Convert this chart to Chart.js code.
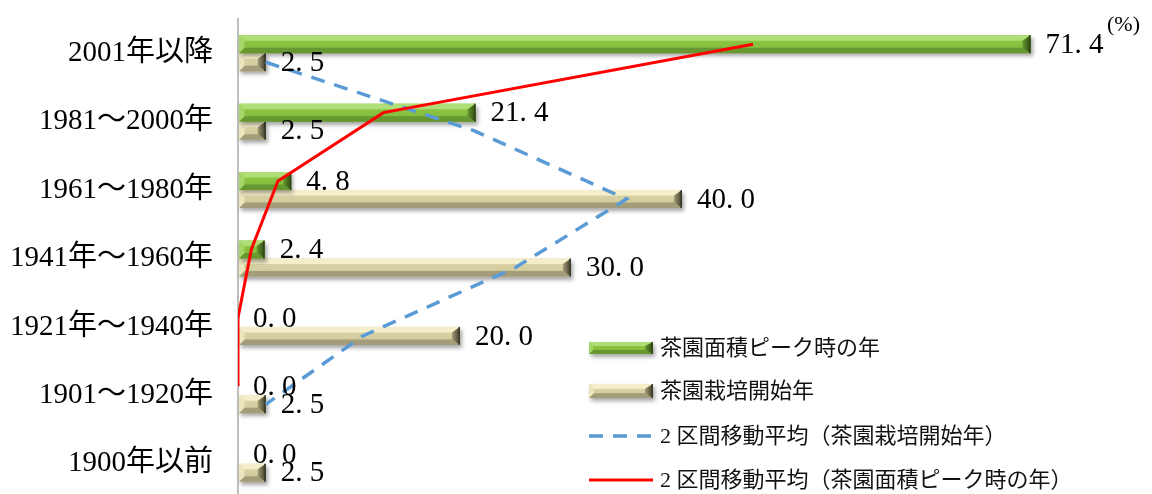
<!DOCTYPE html>
<html>
<head>
<meta charset="utf-8">
<script src="https://cdn.jsdelivr.net/npm/chart.js@4.4.0/dist/chart.umd.min.js"></script>
<style>
  html, body { margin: 0; padding: 0; background: #fff; overflow: hidden; }
  #wrap { width: 1152px; height: 500px; position: relative; }
</style>
</head>
<body>
<div id="wrap"><canvas id="chart"></canvas></div>
<script>
// categories, top to bottom
const categories = ["2001年以降", "1981～2000年", "1961～1980年", "1941年～1960年", "1921年～1940年", "1901～1920年", "1900年以前"];

// 茶園面積ピーク時の年 (%)
const peakYear = [71.4, 21.4, 4.8, 2.4, 0.0, 0.0, 0.0];
// 茶園栽培開始年 (%)
const startYear = [2.5, 2.5, 40.0, 30.0, 20.0, 2.5, 2.5];

// 2 区間移動平均 (no value for 1900年以前)
const maPeak = [46.4, 13.1, 3.6, 1.2, 0.0, 0.0];
const maStart = [2.5, 21.25, 35.0, 25.0, 11.25, 2.5];

const legendLabels = ["茶園面積ピーク時の年", "茶園栽培開始年", "2 区間移動平均（茶園栽培開始年）", "2 区間移動平均（茶園面積ピーク時の年）"];

const barThick = 18;
const barOffset = 0.1315; // half a bar, in category units

const greenBevel = { top: "#b0de76", mid: "#90ca44", low: "#80b83a", bottom: "#679731", left: "#a4d566", right: "#2f4a14" };
const tanBevel = { top: "#f4eecb", mid: "#ded8aa", low: "#ccc598", bottom: "#a29c78", left: "#ece5bd", right: "#3d3b29" };

function drawBevel(ctx, x0, y0, x1, y1, c) {
    const w = x1 - x0, h = y1 - y0;
    if (w < 1) return;
    const b = Math.min(5.5, h / 3, w / 2);
    const br = Math.min(8, w / 2);
    ctx.save();
    // shadow
    ctx.shadowColor = "rgba(0,0,0,0.35)";
    ctx.shadowBlur = 4;
    ctx.shadowOffsetX = 2;
    ctx.shadowOffsetY = 3;
    const g = ctx.createLinearGradient(0, y0, 0, y1);
    g.addColorStop(0, c.mid);
    g.addColorStop(1, c.low);
    ctx.fillStyle = g;
    ctx.fillRect(x0, y0, w, h);
    ctx.restore();

    const poly = (pts, col) => {
        ctx.beginPath();
        ctx.moveTo(pts[0][0], pts[0][1]);
        for (let i = 1; i < pts.length; i++) ctx.lineTo(pts[i][0], pts[i][1]);
        ctx.closePath();
        ctx.fillStyle = col;
        ctx.fill();
    };
    ctx.save();
    poly([[x0, y0], [x1, y0], [x1 - br, y0 + b], [x0 + b, y0 + b]], c.top);
    poly([[x0, y1], [x1, y1], [x1 - br, y1 - b], [x0 + b, y1 - b]], c.bottom);
    poly([[x0, y0], [x0 + b, y0 + b], [x0 + b, y1 - b], [x0, y1]], c.left);
    const rg = ctx.createLinearGradient(x1 - br, 0, x1, 0);
    rg.addColorStop(0, c.bottom);
    rg.addColorStop(1, c.right);
    poly([[x1, y0], [x1 - br, y0 + b], [x1 - br, y1 - b], [x1, y1]], rg);
    ctx.fillStyle = c.right;
    ctx.fillRect(x1 - 1.5, y0, 1.5, h);
    ctx.restore();
}

function drawMono(ctx, text, x, y, adv) {
    for (let i = 0; i < text.length; i++) {
        ctx.fillText(text[i], x + i * adv, y);
    }
}

const bevelPlugin = {
    id: "bevel",
    afterDatasetDraw(chart, args) {
        const meta = args.meta;
        if (meta.type !== "bar") return;
        const colors = meta.index === 2 ? greenBevel : tanBevel;
        const ctx = chart.ctx;
        meta.data.forEach(el => {
            const x0 = Math.min(el.base, el.x), x1 = Math.max(el.base, el.x);
            drawBevel(ctx, x0 + 1, el.y - el.height / 2, x1, el.y + el.height / 2, colors);
        });
    },
    afterDatasetsDraw(chart) {
        const ctx = chart.ctx;
        ctx.save();
        ctx.font = "29px 'Liberation Serif', serif";
        ctx.fillStyle = "#000";
        ctx.textBaseline = "middle";
        ctx.textAlign = "left";
        [2, 3].forEach(di => {
            const meta = chart.getDatasetMeta(di);
            const vals = chart.data.datasets[di].data;
            meta.data.forEach((el, i) => {
                drawMono(ctx, vals[i].toFixed(1), el.x + 15, el.y + 1, 14.5);
            });
        });
        ctx.restore();
    },
    afterDraw(chart) {
        const ctx = chart.ctx;
        ctx.save();
        ctx.fillStyle = "#000";
        ctx.textBaseline = "middle";
        ctx.font = "22px 'Liberation Serif', serif";
        ctx.fillText("(%)", 1107, 25);

        // legend
        const lx = 589, lw = 64, tx = 660;
        const ys = [348, 391, 436, 480];
        drawBevel(ctx, lx, ys[0] - 6, lx + lw, ys[0] + 6, greenBevel);
        drawBevel(ctx, lx, ys[1] - 7, lx + lw, ys[1] + 7, tanBevel);
        ctx.lineWidth = 3.5;
        ctx.strokeStyle = "#5b9bd5";
        ctx.setLineDash([14, 10]);
        ctx.beginPath(); ctx.moveTo(lx, ys[2]); ctx.lineTo(lx + lw, ys[2]); ctx.stroke();
        ctx.setLineDash([]);
        ctx.strokeStyle = "#ff0000";
        ctx.lineWidth = 3;
        ctx.beginPath(); ctx.moveTo(lx, ys[3]); ctx.lineTo(lx + lw, ys[3]); ctx.stroke();
        ctx.font = "22px 'Liberation Serif', 'Noto Sans CJK JP', sans-serif";
        ctx.fillStyle = "#111";
        legendLabels.forEach((t, i) => ctx.fillText(t, tx, ys[i] + 1));
        ctx.restore();
    }
};

new Chart(document.getElementById("chart"), {
    type: "bar",
    data: {
        labels: categories,
        datasets: [
            {
                type: "line",
                label: legendLabels[3],
                data: maPeak.map((v, i) => ({ x: v, y: i - barOffset })),
                yAxisID: "y2",
                indexAxis: "y",
                borderColor: "#ff0000",
                borderWidth: 3,
                pointRadius: 0,
                tension: 0,
                fill: false,
                order: 0
            },
            {
                type: "line",
                label: legendLabels[2],
                data: maStart.map((v, i) => ({ x: v, y: i + barOffset })),
                yAxisID: "y2",
                indexAxis: "y",
                borderColor: "#5b9bd5",
                borderWidth: 3.5,
                borderDash: [14, 10],
                pointRadius: 0,
                tension: 0,
                fill: false,
                order: 0
            },
            {
                label: legendLabels[0],
                data: peakYear,
                backgroundColor: "rgba(0,0,0,0)",
                barThickness: barThick,
                order: 1
            },
            {
                label: legendLabels[1],
                data: startYear,
                backgroundColor: "rgba(0,0,0,0)",
                barThickness: barThick,
                order: 1
            }
        ]
    },
    options: {
        indexAxis: "y",
        responsive: true,
        maintainAspectRatio: false,
        animation: false,
        layout: {
            padding: { top: 19, bottom: 2, right: 26, left: 0 }
        },
        plugins: {
            legend: { display: false },
            tooltip: { enabled: false }
        },
        scales: {
            x: {
                display: false,
                min: 0,
                max: 80
            },
            y: {
                type: "category",
                grid: { display: false, drawTicks: false },
                border: { display: true, color: "#bfbfbf", width: 2 },
                ticks: {
                    color: "#000",
                    padding: 25,
                    font: { family: "'Liberation Serif', 'Noto Sans CJK JP', serif", size: 29 }
                },
                afterFit(scale) {
                    scale.width = 238;
                    scale.paddingTop = 0;
                    scale.paddingBottom = 0;
                }
            },
            y2: {
                type: "linear",
                display: false,
                offset: false,
                grace: 0,
                bounds: "data",
                min: -0.5,
                max: 6.5,
                reverse: true,
                grid: { offset: false },
                afterBuildTicks(scale) {
                    // keep the same span as the category axis
                    scale.min = -0.5;
                    scale.max = 6.5;
                }
            }
        }
    },
    plugins: [bevelPlugin]
});
</script>
</body>
</html>
